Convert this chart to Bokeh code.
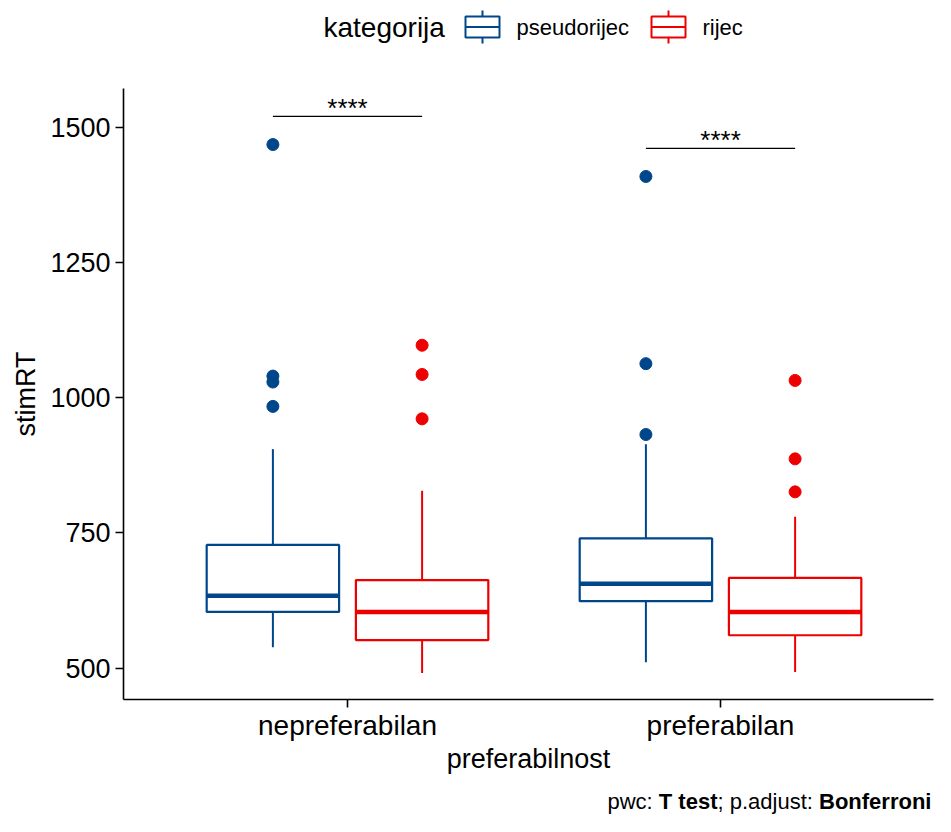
from bokeh.plotting import figure
from bokeh.layouts import column
from bokeh.models import ColumnDataSource, FixedTicker, Range1d
from bokeh.embed import file_html
from bokeh.resources import INLINE
from bokeh.core.properties import value

# ---------------- data ----------------
categories = ["nepreferabilan", "preferabilan"]
groups = ["pseudorijec", "rijec"]
colors = ["#00468B", "#ED0000"]

# box statistics per group, in order of categories
pseudo_low = [539, 511]
pseudo_q1 = [604, 624]
pseudo_med = [634, 656]
pseudo_q3 = [728, 740]
pseudo_high = [905, 914]
pseudo_out_nepref = [1468, 1040, 1029, 984]
pseudo_out_pref = [1409, 1063, 932]

rijec_low = [491, 493]
rijec_q1 = [552, 561]
rijec_med = [604, 604]
rijec_q3 = [663, 667]
rijec_high = [828, 780]
rijec_out_nepref = [1097, 1043, 961]
rijec_out_pref = [1032, 887, 826]

# pairwise comparisons (T test, Bonferroni)
pwc_y = [1520, 1461]
pwc_label = ["****", "****"]

y_ticks = [500, 750, 1000, 1250, 1500]

legend_title = "kategorija"
caption_parts = ["pwc:", "T test", "; p.adjust:", "Bonferroni"]
caption_styles = ["normal", "bold", "normal", "bold"]

FONT = "Liberation Sans"
W = 935
BL, BR = 123, 2          # left/right borders shared by all stacked figures
FL, FR = BL + 2, W       # frame edges in page pixels

stats = {
    "pseudorijec": dict(low=pseudo_low, q1=pseudo_q1, med=pseudo_med, q3=pseudo_q3,
                        high=pseudo_high, out=[pseudo_out_nepref, pseudo_out_pref]),
    "rijec": dict(low=rijec_low, q1=rijec_q1, med=rijec_med, q3=rijec_q3,
                  high=rijec_high, out=[rijec_out_nepref, rijec_out_pref]),
}

dodge = {"pseudorijec": -0.2, "rijec": 0.2}
box_w = 0.355


def strip_fig(h, y0, y1):
    f = figure(width=W, height=h, output_backend="svg", toolbar_location=None,
               x_range=Range1d(FL, FR), y_range=Range1d(y1, y0),
               x_axis_type=None, y_axis_type=None,
               min_border_left=BL, min_border_right=BR, min_border_top=0,
               min_border_bottom=0)
    f.xgrid.visible = False
    f.ygrid.visible = False
    f.outline_line_color = None
    return f


# ---------------- legend (top strip) ----------------
LEG_H = 48
leg = strip_fig(LEG_H, 0, LEG_H)
leg_mid = 27
leg.text(x=[325], y=[leg_mid], text=[legend_title], text_font=value(FONT),
         text_font_size="28px", text_baseline="middle", text_align="left",
         text_color="black")
icon_left = [467, 653]
icon_w = 34
box_top, box_bot = leg_mid - 11, leg_mid + 10
wh_top, wh_bot = leg_mid - 17, leg_mid + 16
for g, c, xl in zip(groups, colors, icon_left):
    xc = xl + icon_w / 2
    leg.segment(x0=[xc], y0=[wh_top], x1=[xc], y1=[wh_bot], line_color=c, line_width=2)
    leg.quad(left=[xl], right=[xl + icon_w], top=[box_top], bottom=[box_bot],
             fill_color="white", line_color=c, line_width=2)
    leg.segment(x0=[xl], y0=[(box_top + box_bot) / 2], x1=[xl + icon_w],
                y1=[(box_top + box_bot) / 2], line_color=c, line_width=2)
    leg.text(x=[xl + icon_w + 17], y=[leg_mid], text=[g], text_font=value(FONT),
             text_font_size="22px", text_baseline="middle", text_align="left",
             text_color="black")

# ---------------- main plot ----------------
p = figure(width=W, height=728, output_backend="svg", toolbar_location=None,
           x_range=Range1d(0.3995, 2.571), y_range=Range1d(442.2, 1571.6),
           min_border_left=BL, min_border_right=BR, min_border_top=40,
           min_border_bottom=72)
p.xgrid.visible = False
p.ygrid.visible = False
p.outline_line_color = None

for g, c in zip(groups, colors):
    s = stats[g]
    xs = [i + 1 + dodge[g] for i in range(len(categories))]
    src = ColumnDataSource(dict(
        x=xs, low=s["low"], q1=s["q1"], med=s["med"], q3=s["q3"], high=s["high"],
        xl=[x - box_w / 2 for x in xs], xr=[x + box_w / 2 for x in xs]))
    p.segment(x0="x", y0="low", x1="x", y1="q1", source=src, line_color=c, line_width=2)
    p.segment(x0="x", y0="q3", x1="x", y1="high", source=src, line_color=c, line_width=2)
    p.vbar(x="x", width=box_w, top="q3", bottom="q1", source=src,
           fill_color="white", line_color=c, line_width=2.2)
    p.segment(x0="xl", y0="med", x1="xr", y1="med", source=src, line_color=c,
              line_width=4.5, line_cap="butt")
    ox, oy = [], []
    for i, vals in enumerate(s["out"]):
        for v in vals:
            ox.append(i + 1 + dodge[g])
            oy.append(v)
    p.scatter(x=ox, y=oy, size=12, color=c, line_color=c)

# significance brackets
bx0 = [i + 1 + dodge["pseudorijec"] for i in range(len(categories))]
bx1 = [i + 1 + dodge["rijec"] for i in range(len(categories))]
bsrc = ColumnDataSource(dict(x0=bx0, x1=bx1, y=pwc_y, lab=pwc_label,
                             xm=[(a + b) / 2 for a, b in zip(bx0, bx1)]))
p.segment(x0="x0", y0="y", x1="x1", y1="y", source=bsrc, line_color="black",
          line_width=1.3)
p.text(x="xm", y="y", text="lab", source=bsrc, text_font=value(FONT),
       text_font_size="26px", text_align="center", text_baseline="alphabetic",
       y_offset=-8, text_color="black")

# axes
p.xaxis.ticker = FixedTicker(ticks=[1, 2])
p.xaxis.major_label_overrides = {1: categories[0], 2: categories[1]}
p.yaxis.ticker = FixedTicker(ticks=y_ticks)
for ax in (p.xaxis[0], p.yaxis[0]):
    ax.axis_line_color = "black"
    ax.axis_line_width = 1.6
    ax.major_tick_line_color = "black"
    ax.major_tick_line_width = 1.6
    ax.major_tick_out = 8
    ax.major_tick_in = 0
    ax.minor_tick_out = 0
    ax.minor_tick_in = 0
    ax.major_label_text_font = FONT
    ax.major_label_text_color = "black"
    ax.axis_label_text_font = FONT
    ax.axis_label_text_font_size = "27px"
    ax.axis_label_text_font_style = "normal"
    ax.axis_label_text_color = "black"
p.xaxis.major_label_text_font_size = "28px"
p.yaxis.major_label_text_font_size = "27px"
p.xaxis.axis_label = "preferabilnost"
p.yaxis.axis_label = "stimRT"
p.xaxis.major_label_standoff = 2
p.xaxis.axis_label_standoff = 0
p.yaxis.major_label_standoff = 5
p.yaxis.axis_label_standoff = 6

# ---------------- caption (bottom strip) ----------------
CAP_TOP, CAP_H = 776, 40
cap = strip_fig(CAP_H, CAP_TOP, CAP_TOP + CAP_H)
cap_x = [609, 660.3, 719.0, 820.5]
for txt, style, xx in zip(caption_parts, caption_styles, cap_x):
    cap.text(x=[xx], y=[CAP_TOP + 25], text=[txt], text_font=value(FONT),
             text_font_size="22px", text_font_style=style,
             text_baseline="alphabetic", text_align="left", text_color="black")

layout = column(leg, p, cap, spacing=0)
open("out.html", "w").write(file_html(layout, INLINE))
